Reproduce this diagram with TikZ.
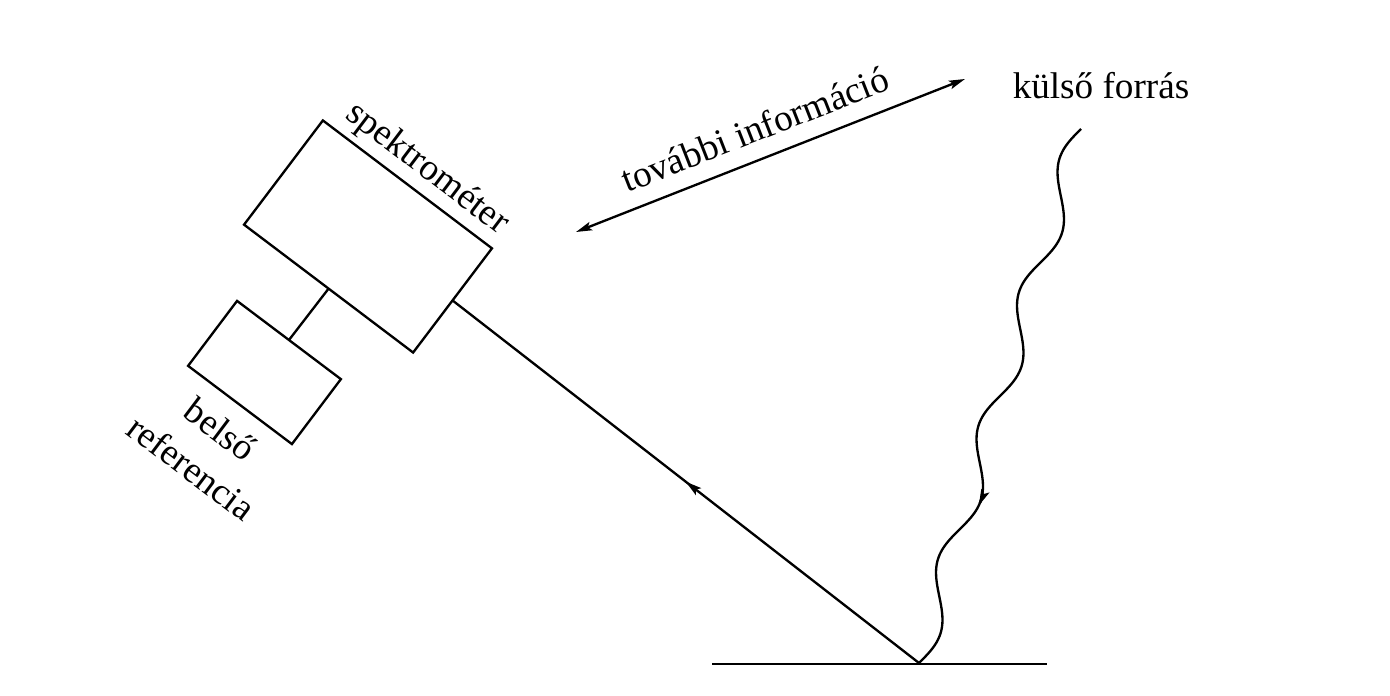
\documentclass[tikz,border=0pt]{standalone}
\usepackage{fontspec}
\setmainfont{Liberation Serif}
\usetikzlibrary{arrows.meta,decorations.markings}
\tikzset{mytip/.tip={Stealth[length=4.8pt,width=2.6pt,inset=1pt]}}
\begin{document}
\begin{tikzpicture}[x=0.3pt,y=-0.3pt, line width=0.7pt,
  box/.style={draw, rectangle, inner sep=0pt, outer sep=0pt},
  lbl/.style={font=\fontsize{11.15}{14.4}\selectfont, inner sep=0pt},
  wave/.style={line join=round},
  midarrow/.style={postaction={decorate, decoration={markings, mark=at position #1 with {\arrow{mytip}}}}}]
\useasboundingbox (0,0) rectangle (1390,696);
\node[box, rotate=-37.1, minimum width=63.6pt, minimum height=39.2pt] (spec) at (368,236.5) {};
\node[box, rotate=-37, minimum width=39pt, minimum height=24.4pt] (ref) at (264.5,372.5) {};
\draw (spec.south) -- (ref.north);
\coordinate (gp) at (919,663);
\coordinate (gl) at (712,664);
\coordinate (gr) at (1047,664);
\draw[line width=0.85pt] (gl) -- (gr);
\draw[midarrow=0.5] (gp) -- (spec.east);
\coordinate (src) at (1081,129);
% wavy ray from the external source (src) down to the ground point (gp)
\draw[wave, -mytip] plot[domain=0:390, samples=160]
  ({1081 - 0.2903*\x - 11.483*sin(2.5806*\x)}, {129 + 0.9569*\x - 3.4836*sin(2.5806*\x)});
\draw[wave] plot[domain=384:558, samples=72]
  ({1081 - 0.2903*\x - 11.483*sin(2.5806*\x)}, {129 + 0.9569*\x - 3.4836*sin(2.5806*\x)});
\coordinate (ia) at (576,232);
\coordinate (ib) at (965,79);
\draw[mytip-mytip] (ia) -- (ib);
\node[lbl, rotate=21.4] (info) at (755,129) {további információ};
\node[lbl] (kf) at (1101,86) {külső forrás};
\node[lbl, rotate=-37.1] (sl) at (427,169) {spektrométer};
\node[lbl, rotate=-37, align=center] (rl) at (206,448.5) {belső\\referencia};
\end{tikzpicture}
\end{document}
